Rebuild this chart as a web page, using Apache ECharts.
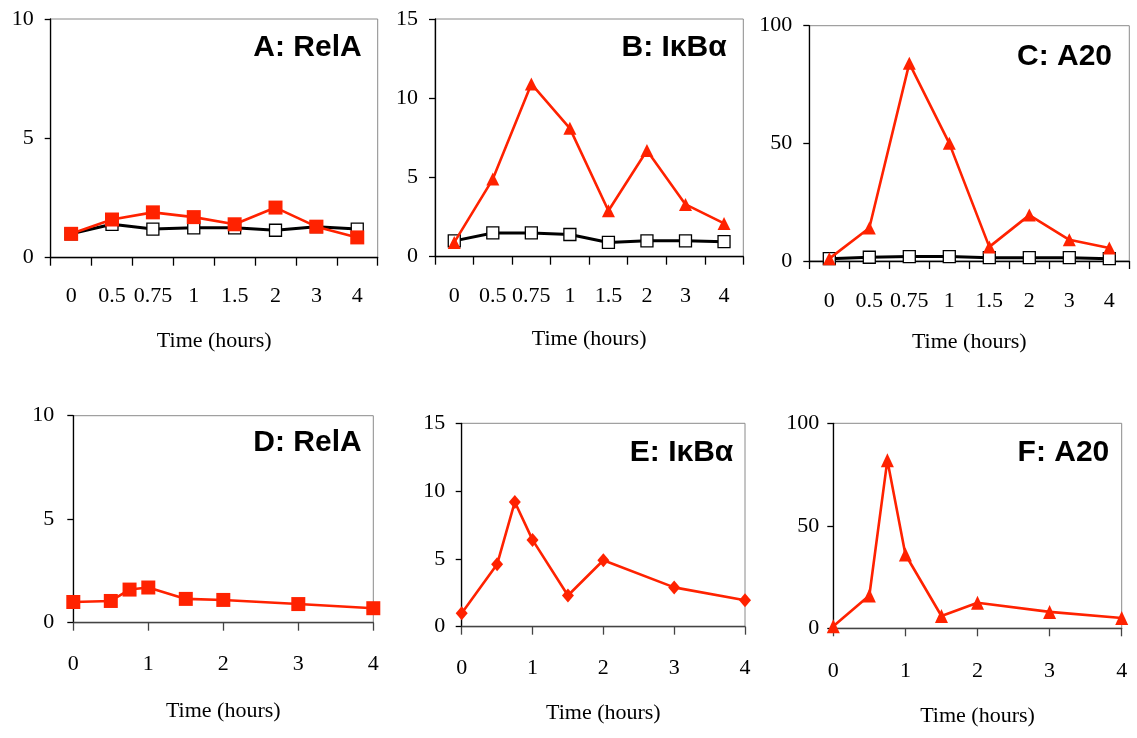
<!DOCTYPE html>
<html>
<head>
<meta charset="utf-8">
<script src="https://cdn.jsdelivr.net/npm/echarts@6/dist/echarts.min.js"></script>
<style>
html,body{margin:0;padding:0;background:#fff;}
#chart{width:1137px;height:738px;}
</style>
</head>
<body>
<div id="chart"></div>
<script>
// ---- data ----
const timeCats = ['0','0.5','0.75','1','1.5','2','3','4'];
const timeVals = [0, 0.5, 0.75, 1, 1.5, 2, 3, 4];
const xTicksBottom = [0, 1, 2, 3, 4];
const panelTitles = ['A: RelA', 'B: IκBα', 'C: A20', 'D: RelA', 'E: IκBα', 'F: A20'];
const axisName = 'Time (hours)';

const relA_control = [1.0, 1.4, 1.2, 1.25, 1.25, 1.15, 1.3, 1.2];
const relA_treated = [1.0, 1.6, 1.9, 1.7, 1.4, 2.1, 1.3, 0.85];
const ikba_control = [1.0, 1.5, 1.5, 1.4, 0.9, 1.0, 1.0, 0.95];
const ikba_treated = [0.9, 4.9, 10.9, 8.1, 2.9, 6.7, 3.3, 2.1];
const a20_control  = [1.0, 1.6, 1.9, 1.9, 1.4, 1.4, 1.4, 1.0];
const a20_treated  = [1.0, 14, 84, 50, 6, 19.5, 9, 5.5];

const relA_model = [1.0, 1.05, 1.6, 1.7, 1.15, 1.1, 0.9, 0.7];
const ikba_model = [1.0, 4.6, 9.2, 6.4, 2.3, 4.9, 2.9, 1.95];
const a20_model  = [1.0, 16, 82, 36, 6, 12.5, 8, 5];

const yMax = [10, 15, 100, 10, 15, 100];
const yStep = [5, 5, 50, 5, 5, 50];

// ---- layout ----
const RED = '#ff2200';
const grids = [
  {left: 50.7, top: 19,    width: 327,   height: 238.7},
  {left: 435,  top: 19,    width: 308.3, height: 237.7},
  {left: 809.3,top: 25.7,  width: 320,   height: 235.3},
  {left: 73.3, top: 415.7, width: 300,   height: 207},
  {left: 461.7,top: 423.3, width: 283.3, height: 203.4},
  {left: 833.3,top: 423.3, width: 288.4, height: 205}
];
const yLabelMargin = [17, 17, 17, 19, 16.5, 14];
const xLabelMargin = [28, 29, 29.5, 31, 30.5, 32];
const nameGaps = [73, 72, 70, 78, 75.7, 77];
const titlePos = [
  {right: 775.3, top: 33},
  {right: 410.3, top: 33},
  {right: 25,    top: 41.3},
  {right: 775.3, top: 428},
  {right: 403.7, top: 438},
  {right: 27.7,  top: 438}
];

const serif = 'Liberation Serif';
const labelStyle = {fontFamily: serif, fontSize: 22, color: '#000'};

const gridOpts = grids.map(g => Object.assign({
  show: true, borderColor: '#8a8a8a', borderWidth: 1, backgroundColor: 'transparent',
  containLabel: false
}, g));

const xAxes = grids.map((g, i) => {
  const top = i < 3;
  const base = {
    gridIndex: i,
    name: axisName,
    nameLocation: 'middle',
    nameGap: nameGaps[i],
    nameTextStyle: labelStyle,
    axisLine: {show: true, onZero: false, lineStyle: {color: top ? '#000' : '#444', width: 1.3}},
    axisTick: {show: true, inside: false, length: 8, lineStyle: {color: top ? '#000' : '#444', width: 1.3}},
    axisLabel: Object.assign({margin: xLabelMargin[i]}, labelStyle),
    splitLine: {show: false}
  };
  if (top) {
    return Object.assign(base, {type: 'category', data: timeCats, boundaryGap: true,
      axisTick: Object.assign(base.axisTick, {alignWithLabel: false, interval: 0}),
      axisLabel: Object.assign(base.axisLabel, {interval: 0})});
  }
  return Object.assign(base, {type: 'value', min: xTicksBottom[0], max: xTicksBottom[xTicksBottom.length - 1], interval: 1});
});

const yAxes = grids.map((g, i) => ({
  gridIndex: i,
  type: 'value',
  min: 0, max: yMax[i], interval: yStep[i],
  axisLine: {show: true, lineStyle: {color: '#000', width: 1.3}},
  axisTick: {show: true, inside: false, length: 6, lineStyle: {color: '#000', width: 1.3}},
  axisLabel: Object.assign({margin: yLabelMargin[i]}, labelStyle),
  splitLine: {show: false}
}));

function blackSeries(idx, vals) {
  return {
    type: 'line', xAxisIndex: idx, yAxisIndex: idx, data: vals,
    symbol: 'rect', symbolSize: 12, showSymbol: true,
    lineStyle: {color: '#000', width: 3},
    itemStyle: {color: '#fff', borderColor: '#000', borderWidth: 1.3},
    animation: false, z: 2
  };
}
function redSeries(idx, vals, symbol, size, paired) {
  const data = paired ? vals.map((v, k) => [timeVals[k], v]) : vals;
  return {
    type: 'line', xAxisIndex: idx, yAxisIndex: idx, data: data,
    symbol: symbol, symbolSize: size, showSymbol: true,
    lineStyle: {color: RED, width: 2.6},
    itemStyle: {color: RED, borderWidth: 0},
    animation: false, z: 3
  };
}

const series = [
  blackSeries(0, relA_control),
  redSeries(0, relA_treated, 'rect', 14, false),
  blackSeries(1, ikba_control),
  redSeries(1, ikba_treated, 'triangle', [13, 13], false),
  blackSeries(2, a20_control),
  redSeries(2, a20_treated, 'triangle', [13, 13], false),
  redSeries(3, relA_model, 'rect', 14, true),
  redSeries(4, ikba_model, 'diamond', [12, 14], true),
  redSeries(5, a20_model, 'triangle', [13, 14], true)
];

const titles = panelTitles.map((t, i) => Object.assign({
  text: t, padding: 0,
  textStyle: {fontFamily: 'Liberation Sans', fontWeight: 'bold', fontSize: 30, color: '#000'}
}, titlePos[i]));

const chart = echarts.init(document.getElementById('chart'), null, {renderer: 'canvas'});
chart.setOption({
  backgroundColor: '#fff',
  animation: false,
  title: titles,
  grid: gridOpts,
  xAxis: xAxes,
  yAxis: yAxes,
  series: series
});
</script>
</body>
</html>
